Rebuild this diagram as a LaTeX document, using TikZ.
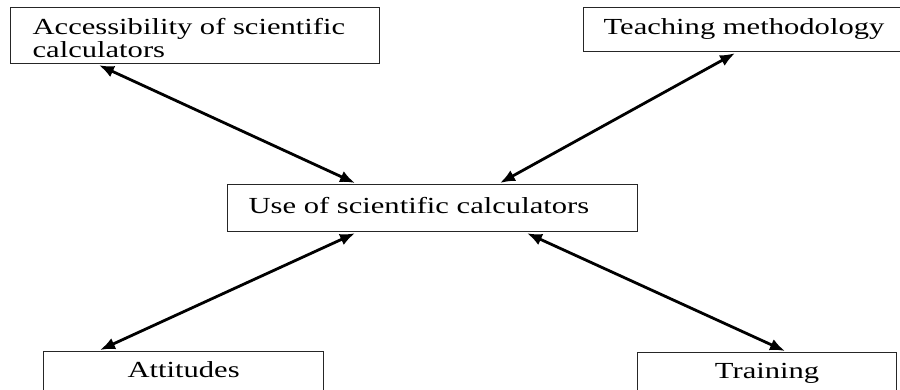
\documentclass[tikz,border=0pt]{standalone}
\usepackage{fontspec}
\setmainfont[FakeStretch=1.33]{Liberation Serif}
\usetikzlibrary{calc,arrows.meta}
\begin{document}
\begin{tikzpicture}[x=1pt,y=-1pt,
  box/.style={draw=black!85,line width=1.2pt,rectangle,inner ysep=0pt,anchor=north west,
    font=\fontsize{23}{23.5}\selectfont,text height=15pt,text depth=5pt},
  link/.style={line width=2.8pt,{Latex[length=15pt,width=12pt]}-{Latex[length=15pt,width=12pt]}}]
\useasboundingbox (0,0) rectangle (900,389);
\clip (0,0) rectangle (900,389);
\fill[white] (0,0) rectangle (900,389);
\node[box,minimum width=369pt,minimum height=56pt,inner xsep=22pt,text depth=17pt]
  (acc) at (10,7) {\parbox[t]{325pt}{\baselineskip=22.5pt Accessibility of scientific\\calculators}};
\node[box,minimum width=322pt,minimum height=44pt,inner xsep=20pt]
  (teach) at (583,7) {\makebox[282pt][l]{Teaching methodology}};
\node[box,minimum width=410pt,minimum height=47pt,inner xsep=21pt]
  (use) at (227,184) {\makebox[368pt][l]{Use of scientific calculators}};
\node[box,minimum width=280pt,minimum height=42pt,inner xsep=0pt]
  (att) at (43,351) {Attitudes};
\node[box,minimum width=259pt,minimum height=42pt,inner xsep=0pt]
  (train) at (637,352) {Training};
\draw[link] ($(acc.south west)+(89,1)$) -- ($(use.north west)+(128,-1)$);
\draw[link] ($(teach.south west)+(152,1)$) -- ($(use.north west)+(273,-1)$);
\draw[link] ($(att.north west)+(57,-1)$) -- ($(use.south west)+(128,1)$);
\draw[link] ($(train.north west)+(148,-1)$) -- ($(use.south west)+(300,1)$);
\end{tikzpicture}
\end{document}
